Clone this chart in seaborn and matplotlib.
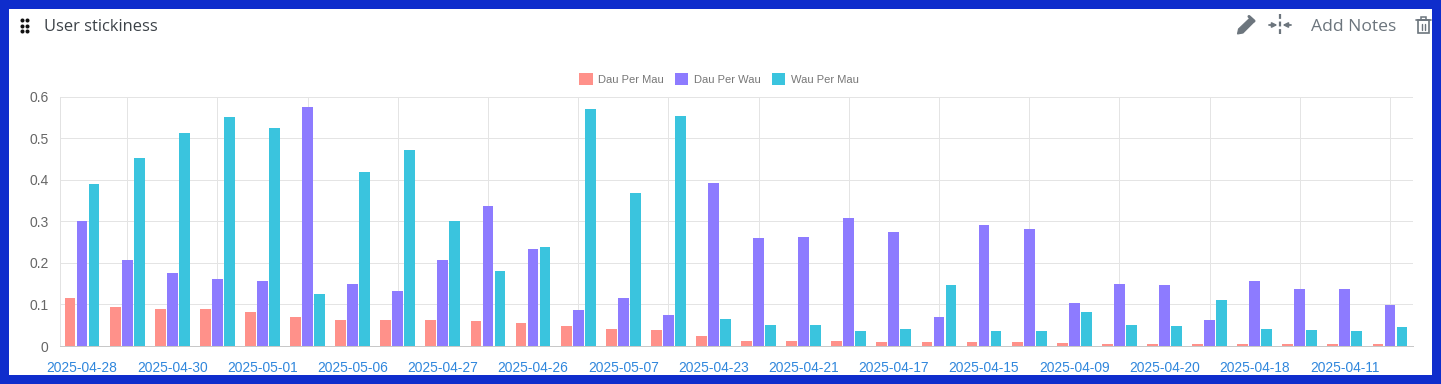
import matplotlib
matplotlib.use('Agg')
import matplotlib.pyplot as plt
from matplotlib.patches import Rectangle, Polygon
import seaborn as sns
import pandas as pd

dates = ['2025-04-28', '2025-04-29', '2025-04-30', '2025-05-02', '2025-05-01', '2025-05-05',
         '2025-05-06', '2025-05-03', '2025-04-27', '2025-05-04', '2025-04-26', '2025-04-25',
         '2025-05-07', '2025-04-24', '2025-04-23', '2025-04-22', '2025-04-21', '2025-04-19',
         '2025-04-17', '2025-04-16', '2025-04-15', '2025-04-14', '2025-04-09', '2025-04-13',
         '2025-04-20', '2025-04-12', '2025-04-18', '2025-04-10', '2025-04-11', '2025-04-08']
dau_per_mau = [.115, .093, .090, .088, .081, .070, .062, .062, .062, .060, .055, .048, .042, .039, .025,
               .013, .012, .011, .010, .009, .009, .009, .007, .006, .006, .006, .005, .004, .004, .004]
dau_per_wau = [.301, .207, .176, .162, .157, .575, .150, .133, .208, .337, .233, .087, .116, .074, .393,
               .260, .261, .308, .275, .070, .292, .281, .104, .150, .146, .063, .156, .137, .137, .099]
wau_per_mau = [.390, .451, .513, .550, .524, .124, .418, .472, .300, .180, .238, .570, .369, .552, .065,
               .051, .050, .037, .040, .146, .035, .035, .082, .051, .048, .110, .041, .038, .036, .045]
series_names = ['Dau Per Mau', 'Dau Per Wau', 'Wau Per Mau']
colors = ['#ff918a', '#8d7bff', '#3ac4de']
y_ticks = [0, 0.1, 0.2, 0.3, 0.4, 0.5, 0.6]
y_labels = ['0', '0.1', '0.2', '0.3', '0.4', '0.5', '0.6']

W, H = 1441, 384
sns.set_theme(style='white')
plt.rcParams['font.family'] = ['Liberation Sans', 'DejaVu Sans']

df = pd.DataFrame({'date': dates, series_names[0]: dau_per_mau,
                   series_names[1]: dau_per_wau, series_names[2]: wau_per_mau})
df = df.melt(id_vars='date', var_name='series', value_name='value')

fig = plt.figure(figsize=(W / 100, H / 100), dpi=100, facecolor='#0f2dcc')
fig.patches.append(Rectangle((9 / W, 1 - 375 / H), 1423 / W, 366 / H, transform=fig.transFigure,
                             facecolor='white', edgecolor='none', zorder=-1))

ax = fig.add_axes([59.5 / W, 1 - 346 / H, 1353 / W, 249.5 / H], facecolor='none')
sns.barplot(data=df, x='date', y='value', hue='series', order=dates, hue_order=series_names,
            palette=colors, saturation=1, width=0.8, gap=0.1, ax=ax, linewidth=0, legend=True)

ax.set_xlim(-0.5, 29.5)
ax.set_ylim(0, 0.6)
ax.set_xlabel('')
ax.set_ylabel('')
ax.set_axisbelow(True)

# labels on every other date, the grid falls on the ones in between
ax.set_xticks(range(0, 30, 2))
ax.set_xticklabels(dates[::2], color='#2f86dc', fontsize=9.9)
ax.set_xticks(range(1, 30, 2), minor=True)
ax.tick_params(axis='x', which='major', length=0, pad=10.5)
ax.tick_params(axis='x', which='minor', length=6.5, width=0.72, color='#e2e2e2')
ax.xaxis.grid(True, which='minor', color='#e4e4e4', lw=0.72)
ax.set_yticks(y_ticks)
ax.set_yticklabels(y_labels, color='#666666', fontsize=10)
ax.tick_params(axis='y', length=6, width=0.72, color='#e2e2e2', pad=2)
ax.yaxis.grid(True, color='#e4e4e4', lw=0.72)
for side in ['top', 'right']:
    ax.spines[side].set_visible(False)
ax.spines['left'].set_color('#e2e2e2')
ax.spines['left'].set_linewidth(0.72)
ax.spines['bottom'].set_color('#c8c8c8')
ax.spines['bottom'].set_linewidth(0.72)

handles, labels = ax.get_legend_handles_labels()
leg = ax.legend(handles, labels, loc='center', bbox_to_anchor=((719 - 59.5) / 1353, (346 - 79) / 249.5),
                ncol=3, frameon=False, fontsize=8, handlelength=1.2, handleheight=1.2,
                handletextpad=0.5, columnspacing=1, borderpad=0, borderaxespad=0)
for t in leg.get_texts():
    t.set_color('#777777')

# panel header, drawn in pixel coordinates
top = fig.add_axes([0, 0, 1, 1], facecolor='none')
top.set_xlim(0, W)
top.set_ylim(H, 0)
top.axis('off')
top.text(43.5, 27, 'User stickiness', family=['Open Sans', 'DejaVu Sans'], fontsize=11.9,
         color='#3c4248', va='center', ha='left')
top.text(1311, 27, 'Add Notes', family=['Open Sans', 'DejaVu Sans'], fontsize=12.6,
         color='#6c757d', va='center', ha='left')
for x in [22, 27]:
    for y in [20, 25.5, 31]:
        top.plot(x, y, 'o', ms=2.9, color='#111111', mec='none')

icon = '#6c757d'
top.add_patch(Polygon([(1237.5, 34), (1238.5, 29), (1250, 18), (1254, 22), (1243, 33)], closed=True,
                      facecolor=icon, edgecolor=icon, lw=0.8))
top.plot([1249, 1254], [16.5, 21], color=icon, lw=2.2)
top.plot([1280, 1280], [14, 35], color=icon, lw=1.6, dashes=(2.2, 1.2))
top.annotate('', xy=(1277.5, 25), xytext=(1269, 25), arrowprops=dict(arrowstyle='-|>', color=icon, lw=1.3, mutation_scale=7, shrinkA=0, shrinkB=0))
top.annotate('', xy=(1282.5, 25), xytext=(1291, 25), arrowprops=dict(arrowstyle='-|>', color=icon, lw=1.3, mutation_scale=7, shrinkA=0, shrinkB=0))
top.add_patch(Rectangle((1417.5, 20), 11.5, 13, facecolor='none', edgecolor=icon, lw=1.2))
top.plot([1416, 1430.5], [20, 20], color=icon, lw=1.2)
top.add_patch(Rectangle((1420.5, 17), 5.5, 3, facecolor='none', edgecolor=icon, lw=1.1))
top.plot([1421.5, 1421.5], [24, 30], color=icon, lw=1)
top.plot([1425, 1425], [24, 30], color=icon, lw=1)

fig.savefig('out.png', dpi=100, facecolor=fig.get_facecolor())
